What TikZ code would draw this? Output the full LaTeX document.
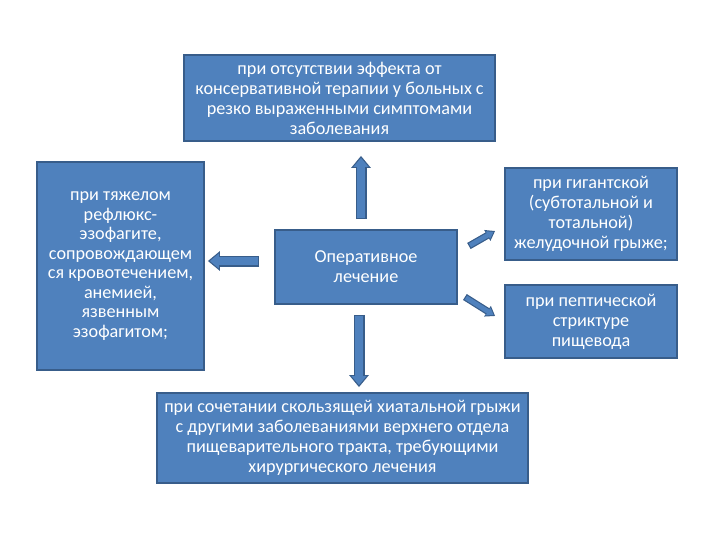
\documentclass[tikz,border=0pt]{standalone}
\usepackage{fontspec}
\setmainfont{Carlito}
\usetikzlibrary{arrows.meta}
\definecolor{boxfill}{HTML}{4F81BD}
\definecolor{boxline}{HTML}{385D8A}
\tikzset{
  box/.style={draw=boxline, line width=1.8pt, fill=boxfill, text=white, align=center, inner sep=1pt,
    font=\fontsize{18.2}{20}\selectfont},
  bout/.style={draw=boxline, line width=11pt, -{Triangle[length=12pt,width=19pt]}},
  bin/.style={draw=boxfill, line width=8pt, shorten >=2pt, shorten <=1.5pt, -{Triangle[length=9pt,width=14.5pt]}},
  tout/.style={draw=boxline, line width=7pt, -{Triangle[length=9pt,width=12pt]}},
  tin/.style={draw=boxfill, line width=4.6pt, shorten >=1.8pt, shorten <=1.2pt, -{Triangle[length=6.5pt,width=8.5pt]}}
}
\begin{document}
\begin{tikzpicture}[x=1pt,y=-1pt]
\useasboundingbox (0,0) rectangle (720,540);
\node[box, minimum width=311pt, minimum height=86pt] (top) at (339.5,98)
  {при отсутствии эффекта от\\консервативной терапии у больных с\\резко выраженными симптомами\\заболевания};
\node[box, minimum width=167pt, minimum height=208pt, font=\fontsize{18.2}{19.5}\selectfont] (left) at (120.5,266)
  {при тяжелом\\рефлюкс-\\эзофагите,\\сопровождающем\\ся кровотечением,\\анемией,\\язвенным\\эзофагитом;};
\node[box, minimum width=182pt, minimum height=74pt] (c) at (366,267)
  {Оперативное\\лечение};
\node[box, minimum width=172pt, minimum height=92pt] (rt) at (591,214)
  {при гигантской\\(субтотальной и\\тотальной)\\желудочной грыже;};
\node[box, minimum width=172pt, minimum height=73pt] (rb) at (591,321.5)
  {при пептической\\стриктуре\\пищевода};
\node[box, minimum width=371pt, minimum height=90pt] (bot) at (342.5,438)
  {при сочетании скользящей хиатальной грыжи\\с другими заболеваниями верхнего отдела\\пищеварительного тракта, требующими\\хирургического лечения};
% arrow end points
\coordinate (upS) at ([shift={(-5,-10)}]c.north);
\coordinate (upE) at ([shift={(21.5,14)}]top.south);
\coordinate (lfS) at ([shift={(-15,-6)}]c.west);
\coordinate (lfE) at ([shift={(3,-5)}]left.east);
\coordinate (dnS) at ([shift={(-7,10)}]c.south);
\coordinate (dnE) at ([shift={(16.5,-5)}]bot.north);
\coordinate (urS) at ([shift={(11,-21)}]c.east);
\coordinate (urE) at ([shift={(-9,17)}]rt.west);
\coordinate (lrS) at ([shift={(7,30)}]c.east);
\coordinate (lrE) at ([shift={(-9,-5.5)}]rb.west);
\foreach \a/\b in {upS/upE, lfS/lfE, dnS/dnE}{
  \draw[bout] (\a) -- (\b);
  \draw[bin] (\a) -- (\b);
}
\foreach \a/\b in {urS/urE, lrS/lrE}{
  \draw[tout] (\a) -- (\b);
  \draw[tin] (\a) -- (\b);
}
\end{tikzpicture}
\end{document}
